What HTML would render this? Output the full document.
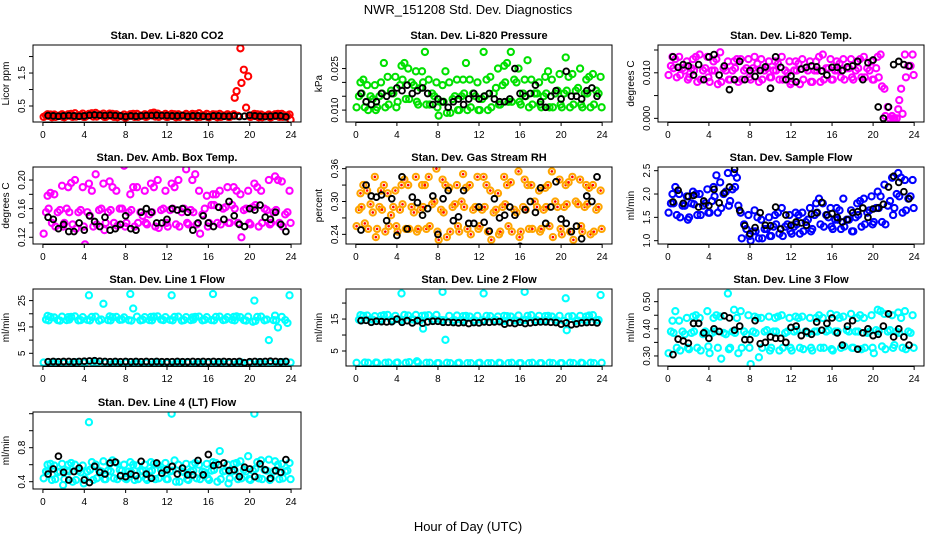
<!DOCTYPE html>
<html><head><meta charset="utf-8">
<style>
html,body{margin:0;padding:0;background:#fff;}
svg{display:block;font-family:"Liberation Sans",Arial,sans-serif;}
</style></head>
<body>
<svg id="chart" width="936" height="540" viewBox="0 0 936 540">
<text x="468" y="14" text-anchor="middle" font-size="13">NWR_151208  Std. Dev. Diagnostics</text>
<text x="468" y="531" text-anchor="middle" font-size="13">Hour of Day (UTC)</text>
</svg>
<script>
const xTicks=[0,4,8,12,16,20,24];
const binHours=[0.25,0.75,1.25,1.75,2.25,2.75,3.25,3.75,4.25,4.75,5.25,5.75,6.25,6.75,7.25,7.75,8.25,8.75,9.25,9.75,10.25,10.75,11.25,11.75,12.25,12.75,13.25,13.75,14.25,14.75,15.25,15.75,16.25,16.75,17.25,17.75,18.25,18.75,19.25,19.75,20.25,20.75,21.25,21.75,22.25,22.75,23.25,23.75];
const blackHours=[0.5,1,1.5,2,2.5,3,3.5,4,4.5,5,5.5,6,6.5,7,7.5,8,8.5,9,9.5,10,10.5,11,11.5,12,12.5,13,13.5,14,14.5,15,15.5,16,16.5,17,17.5,18,18.5,19,19.5,20,20.5,21,21.5,22,22.5,23,23.5];

const co2Lo=[.17,.16,.17,.17,.16,.17,.18,.17,.17,.18,.18,.17,.17,.17,.16,.15,.16,.17,.17,.17,.18,.18,.17,.17,.17,.16,.17,.17,.17,.16,.17,.17,.16,.16,.17,.17,.17,.2,1.2,.2,.17,.16,.16,.16,.16,.17,.17,.08];
const co2Mid=[.21,.2,.2,.21,.2,.21,.22,.22,.21,.23,.24,.22,.22,.21,.2,.19,.2,.21,.21,.21,.24,.26,.22,.21,.21,.2,.21,.21,.21,.2,.22,.21,.2,.2,.21,.21,.21,.75,1.6,.45,.22,.2,.2,.2,.2,.21,.21,.2];
const co2Hi=[.25,.24,.24,.25,.25,.26,.28,.27,.26,.28,.29,.27,.27,.26,.25,.24,.25,.26,.26,.25,.28,.3,.27,.26,.26,.25,.25,.26,.26,.25,.28,.26,.25,.24,.26,.25,.25,.95,2.25,1.4,.26,.25,.24,.24,.25,.26,.26,.24];
const co2Black=[.21,.2,.19,.2,.21,.2,.19,.2,.22,.23,.22,.21,.22,.21,.2,.18,.2,.19,.2,.21,.21,.22,.21,.21,.2,.2,.21,.19,.2,.2,.19,.18,.2,.2,.19,.19,.2,.18,.19,.22,.2,.19,.18,.19,.2,.2,.17];

const presLo=[.011,.011,.010,.010,.011,.011,.012,.011,.013,.014,.014,.013,.012,.012,.012,.011,.008,.009,.009,.010,.010,.010,.011,.010,.010,.010,.011,.012,.012,.013,.013,.013,.012,.011,.012,.012,.011,.011,.011,.012,.011,.011,.012,.012,.011,.011,.012,.011];
const presMid=[.015,.016,.015,.014,.015,.016,.017,.016,.019,.021,.020,.019,.018,.020,.016,.015,.013,.013,.014,.015,.015,.016,.016,.015,.014,.015,.016,.018,.019,.020,.021,.020,.016,.015,.016,.016,.015,.016,.016,.017,.016,.017,.017,.018,.016,.016,.017,.016];
const presHi=[.020,.021,.019,.019,.020,.027,.022,.022,.026,.027,.025,.024,.024,.031,.021,.020,.019,.024,.020,.021,.021,.027,.021,.020,.031,.021,.022,.025,.026,.027,.031,.025,.021,.028,.021,.020,.022,.024,.021,.023,.029,.022,.023,.025,.021,.022,.023,.022];
const presBlack=[.016,.013,.012,.013,.016,.015,.016,.018,.017,.019,.016,.017,.018,.016,.012,.014,.013,.011,.013,.014,.012,.014,.016,.014,.015,.016,.014,.013,.013,.014,.025,.016,.015,.016,.019,.013,.011,.015,.017,.014,.024,.015,.015,.014,.017,.018,.015];

const tempLo=[.0095,.009,.0095,.0085,.009,.008,.0085,.009,.008,.0075,.008,.0085,.0085,.008,.0085,.009,.0085,.008,.0085,.009,.009,.0085,.0085,.0075,.008,.0075,.0085,.008,.008,.008,.0085,.0085,.0085,.009,.0085,.009,.0085,.009,.009,.0085,.0085,.007,.0005,0,0,.001,.009,.0095];
const tempMid=[.0115,.011,.011,.0105,.011,.0105,.0105,.011,.0105,.0105,.011,.0105,.0105,.011,.0105,.011,.011,.0105,.0105,.011,.0105,.0105,.0105,.010,.0105,.0105,.011,.0105,.0105,.0105,.011,.011,.0105,.0105,.011,.011,.0105,.011,.011,.0105,.011,.009,.0025,0,0,.004,.0115,.0115];
const tempHi=[.0135,.013,.0135,.0125,.013,.0135,.014,.0135,.0125,.013,.0145,.0125,.0125,.013,.013,.013,.0135,.012,.013,.0125,.0125,.012,.0135,.0125,.0125,.012,.013,.0125,.0125,.0135,.014,.013,.0125,.012,.013,.013,.0125,.013,.0135,.0125,.0135,.014,.0065,.0005,.002,.0065,.014,.014];
const tempBlack=[.0135,.0112,.0118,.0115,.0095,.0118,.0085,.0135,.014,.0095,.0115,.0063,.0085,.0125,.0085,.0105,.0092,.0105,.0113,.0066,.0135,.0112,.0085,.0093,.008,.0108,.0112,.0115,.0113,.0104,.0095,.0112,.0112,.0105,.0113,.0115,.0125,.0085,.0122,.0128,.0025,0,.0025,.0118,.0125,.0118,.0115];

const ambLo=[.125,.14,.135,.135,.14,.138,.132,.135,.11,.135,.138,.13,.14,.14,.136,.135,.14,.135,.14,.14,.138,.135,.133,.14,.135,.138,.135,.14,.138,.138,.125,.135,.14,.14,.138,.14,.14,.14,.12,.14,.138,.135,.14,.138,.14,.14,.135,.14];
const ambMid=[.155,.16,.155,.158,.16,.155,.155,.158,.155,.15,.158,.16,.155,.158,.16,.16,.155,.158,.155,.15,.152,.155,.158,.16,.158,.16,.155,.16,.158,.155,.152,.16,.165,.165,.16,.162,.165,.16,.158,.16,.162,.165,.16,.158,.155,.158,.152,.155];
const ambHi=[.178,.182,.18,.192,.19,.196,.2,.19,.195,.185,.208,.195,.198,.19,.185,.22,.18,.19,.19,.185,.195,.19,.2,.185,.195,.19,.2,.215,.2,.208,.185,.178,.18,.18,.185,.19,.19,.185,.18,.185,.195,.19,.185,.2,.205,.2,.198,.185];
const ambBlack=[.148,.145,.132,.138,.128,.128,.14,.13,.15,.142,.135,.148,.13,.132,.138,.15,.132,.13,.155,.16,.155,.14,.14,.145,.16,.158,.16,.155,.13,.14,.15,.14,.135,.162,.145,.17,.15,.138,.135,.16,.158,.165,.148,.145,.155,.138,.128];

const rhLo=[.255,.26,.25,.235,.25,.245,.255,.255,.245,.25,.25,.245,.25,.25,.255,.245,.23,.235,.245,.255,.245,.25,.24,.25,.255,.245,.23,.24,.245,.255,.245,.235,.245,.25,.25,.245,.25,.255,.235,.25,.24,.245,.23,.255,.245,.24,.245,.25];
const rhMid=[.285,.29,.295,.28,.29,.285,.275,.29,.285,.295,.29,.28,.285,.29,.295,.3,.285,.28,.29,.295,.3,.29,.285,.29,.285,.29,.28,.285,.29,.295,.285,.28,.29,.285,.3,.29,.285,.29,.3,.29,.29,.295,.3,.295,.29,.295,.285,.29];
const rhHi=[.315,.33,.32,.345,.32,.33,.315,.32,.33,.34,.33,.345,.33,.33,.345,.36,.34,.33,.325,.33,.35,.325,.33,.345,.345,.33,.32,.315,.345,.33,.335,.355,.34,.33,.33,.32,.325,.33,.355,.34,.33,.335,.345,.34,.33,.325,.33,.32];
const rhBlack=[.248,.33,.31,.308,.312,.265,.305,.238,.345,.25,.308,.298,.275,.287,.31,.24,.305,.32,.265,.272,.32,.26,.26,.29,.262,.246,.305,.27,.275,.29,.275,.218,.285,.3,.28,.325,.26,.29,.336,.268,.26,.245,.255,.232,.31,.3,.345];

const sfLo=[1.6,1.55,1.5,1.45,1.5,1.55,1.55,1.6,1.6,1.6,1.7,1.75,1.85,1.75,1.05,1.1,1.0,1.05,1.05,1.1,1.1,1.15,1.1,1.2,1.15,1.15,1.2,1.2,1.25,1.35,1.3,1.3,1.25,1.25,1.3,1.2,1.2,1.3,1.35,1.35,1.4,1.4,1.35,1.55,1.7,1.6,1.65,1.7];
const sfMid=[1.8,1.8,1.75,1.75,1.8,1.78,1.75,1.8,1.85,1.95,2.0,2.05,2.1,2.15,1.35,1.25,1.2,1.2,1.25,1.25,1.3,1.35,1.3,1.35,1.3,1.35,1.4,1.45,1.55,1.6,1.55,1.5,1.45,1.45,1.45,1.45,1.5,1.55,1.6,1.65,1.7,1.7,1.75,1.85,2.0,1.95,1.9,1.95];
const sfHi=[2.0,2.15,2.0,1.95,2.05,2.0,2.0,2.1,2.15,2.4,2.25,2.45,2.45,2.35,1.6,1.55,1.65,1.5,1.45,1.5,1.55,1.6,1.7,1.55,1.6,1.55,1.6,1.7,1.8,1.9,1.8,1.7,1.7,1.65,1.9,1.65,1.8,1.85,1.9,1.95,2.05,1.95,2.2,2.35,2.45,2.35,2.3,2.3];
const sfBlack=[1.83,2.08,1.8,1.95,1.97,1.72,1.85,1.75,2.1,1.81,2.02,2.15,2.53,1.65,1.32,1.15,1.28,1.6,1.33,1.32,1.72,1.25,1.55,1.33,1.4,1.38,1.33,1.57,1.6,1.82,1.55,1.58,1.5,1.4,1.45,1.6,1.62,1.7,1.5,1.68,1.7,1.78,2.15,2.38,2.25,2.05,1.9];

const l1Lo=[1.5,1.4,1.6,1.5,1.5,1.4,1.6,1.5,1.6,1.5,1.4,1.6,1.5,1.5,1.4,1.5,1.6,1.5,1.4,1.5,1.5,1.6,1.5,1.4,1.5,1.4,1.5,1.6,1.5,1.4,1.5,1.5,1.6,1.4,1.5,1.5,1.4,1.5,1.5,1.3,1.5,1.6,1.5,1.4,1.5,1.5,1.6,1.5];
const l1Mid=[17.8,17.5,17.6,17.4,17.6,17.8,17.5,17.6,17.7,17.5,17.4,17.8,17.6,17.5,17.7,17.8,17.6,17.4,17.5,17.7,17.6,17.5,17.8,17.6,17.7,17.5,17.4,17.6,17.6,17.8,17.5,17.7,17.6,17.5,17.6,17.8,17.7,17.5,17.6,17.4,17.0,17.3,17.5,17.8,17.6,17.5,17.6,16.5];
const l1Hi=[19.2,18.8,18.6,18.9,18.7,18.8,19.0,18.7,27.0,18.8,18.9,23.8,19.0,18.7,18.8,18.6,27.5,22.0,18.9,18.7,18.8,18.9,19.0,18.7,27.0,18.8,18.9,18.7,18.6,18.8,18.9,18.7,27.5,18.8,18.9,18.7,18.8,19.0,18.7,18.9,25.0,18.8,18.9,10.0,19.3,14.8,18.8,27.0];
const l1Black=[1.8,1.9,1.8,1.9,1.9,1.8,1.9,2.0,2.1,2.2,2.0,1.9,1.8,1.9,1.8,1.9,1.8,1.9,1.8,1.9,1.8,1.9,1.8,1.8,1.8,1.9,1.8,1.8,1.9,1.8,1.9,1.8,1.9,1.8,1.9,1.8,1.8,1.9,1.4,1.8,1.9,1.8,1.9,2.0,1.9,1.8,1.9];

const l2Lo=[1.3,1.4,1.3,1.4,1.3,1.3,1.4,1.3,1.4,1.3,1.5,1.8,1.4,1.3,1.3,1.2,1.2,1.3,1.2,1.2,1.3,1.2,1.2,1.2,1.3,1.2,1.2,1.3,1.2,1.2,1.3,1.2,1.2,1.2,1.3,1.2,1.2,1.3,1.2,1.2,1.2,1.3,1.2,1.3,1.2,1.3,1.2,1.3];
const l2Mid=[14.8,14.6,14.9,14.8,14.7,14.9,14.8,14.6,14.8,14.7,14.9,14.8,14.7,12.0,14.6,14.8,14.7,14.6,14.5,14.6,14.7,14.5,14.6,14.5,14.6,14.5,14.6,14.7,14.5,14.4,14.6,14.5,14.6,14.7,14.5,14.6,14.5,14.6,14.7,14.5,14.4,11.5,14.4,14.5,14.6,14.5,14.6,14.7];
const l2Hi=[16.2,16.0,16.1,15.9,16.0,16.2,16.3,16.0,23.0,16.3,16.1,16.3,16.0,16.1,16.2,16.3,23.5,8.5,16.0,16.1,15.9,16.0,15.8,16.0,23.0,16.0,15.9,15.8,16.0,15.9,15.8,16.1,23.5,16.0,16.2,16.0,15.9,16.0,15.8,16.0,21.5,15.8,15.9,16.0,15.8,16.1,16.2,22.5];
const l2Black=[14.5,14.6,14.0,14.3,14.2,14.1,14.2,15.0,14.0,14.5,13.8,14.5,13.7,14.1,14.3,14.3,14.0,14.0,13.9,13.8,13.9,13.6,13.9,13.8,14.1,14.0,14.1,14.2,13.4,13.8,13.6,14.0,13.6,13.8,14.0,14.1,14.1,14.0,13.9,13.4,13.8,13.2,13.5,13.8,13.9,14.0,13.8];

const l3Lo=[.31,.33,.32,.33,.325,.33,.32,.335,.31,.33,.29,.325,.33,.31,.33,.33,.27,.295,.33,.32,.33,.32,.33,.33,.32,.33,.325,.33,.32,.33,.33,.325,.32,.33,.335,.33,.33,.325,.33,.33,.31,.335,.325,.33,.34,.33,.325,.33];
const l3Mid=[.39,.385,.39,.38,.385,.39,.38,.39,.385,.39,.385,.38,.39,.385,.39,.38,.39,.385,.39,.395,.39,.39,.385,.39,.39,.395,.39,.385,.39,.39,.39,.395,.39,.39,.395,.39,.39,.39,.385,.39,.395,.39,.39,.395,.39,.385,.39,.385];
const l3Hi=[.43,.465,.43,.44,.445,.45,.44,.465,.44,.45,.445,.53,.47,.44,.465,.45,.445,.44,.44,.445,.44,.445,.45,.44,.445,.44,.445,.44,.44,.45,.44,.455,.45,.44,.445,.455,.44,.45,.44,.45,.47,.465,.455,.45,.46,.44,.465,.45];
const l3Black=[.305,.362,.355,.347,.42,.42,.385,.365,.4,.39,.448,.44,.395,.41,.36,.36,.43,.345,.35,.37,.365,.365,.35,.405,.41,.375,.39,.38,.425,.395,.42,.44,.385,.34,.41,.43,.325,.385,.4,.375,.38,.41,.455,.37,.4,.37,.34];

const l4Lo=[.44,.42,.43,.36,.43,.4,.42,.38,.43,.42,.44,.43,.43,.44,.43,.44,.43,.42,.43,.44,.42,.43,.44,.43,.43,.4,.4,.43,.42,.44,.43,.44,.42,.4,.43,.38,.44,.43,.44,.43,.42,.44,.43,.42,.44,.43,.44,.43];
const l4Mid=[.52,.53,.51,.52,.53,.52,.53,.51,.52,.54,.53,.52,.53,.52,.54,.53,.52,.51,.52,.53,.52,.53,.54,.53,.52,.53,.52,.51,.52,.53,.52,.51,.53,.54,.52,.53,.52,.53,.54,.52,.53,.55,.54,.53,.52,.53,.52,.53];
const l4Hi=[.6,.61,.59,.61,.6,.62,.6,.59,1.1,.63,.6,.64,.61,.65,.62,.6,.63,.6,.59,.6,.63,.61,.6,.62,1.2,.65,.6,.61,.6,.62,.6,.61,.63,.62,.76,.6,.61,.62,.64,.7,1.2,.63,.65,.66,.64,.6,.61,.62];
const l4Black=[.49,.55,.7,.51,.42,.52,.56,.42,.39,.58,.51,.49,.62,.63,.47,.46,.49,.47,.64,.49,.44,.62,.5,.54,.58,.49,.56,.48,.48,.65,.48,.72,.59,.6,.62,.53,.54,.46,.57,.55,.46,.61,.54,.44,.53,.51,.66];

const cols=[[33,301],[346,612],[658,924]];
const rows=[[45,122],[167,244],[289,366],[412,489]];
const panels=[
 {id:'co2',title:'Stan. Dev. Li-820 CO2',ylab:'Licor ppm',c:0,r:0,dom:[0.015,2.35],ticks:[0.5,1,1.5,2],labs:['0.5','1.5'],col:'#ff0000',s:[co2Lo,co2Mid,co2Hi],b:co2Black},
 {id:'pressure',title:'Stan. Dev. Li-820 Pressure',ylab:'kPa',c:1,r:0,dom:[0.0057,0.0335],ticks:[0.01,0.015,0.02,0.025],labs:['0.010','0.025'],col:'#00e000',s:[presLo,presMid,presHi],b:presBlack},
 {id:'li820-temp',title:'Stan. Dev. Li-820 Temp.',ylab:'degrees C',c:2,r:0,dom:[-0.0008,0.0161],ticks:[0,0.005,0.01,0.015],labs:['0.000','0.010'],col:'#ff00ff',s:[tempLo,tempMid,tempHi],b:tempBlack},
 {id:'amb-box-temp',title:'Stan. Dev. Amb. Box Temp.',ylab:'degrees C',c:0,r:1,dom:[0.1106,0.2182],ticks:[0.12,0.14,0.16,0.18,0.2],labs:['0.12','0.16','0.20'],col:'#ff00ff',s:[ambLo,ambMid,ambHi],b:ambBlack},
 {id:'gas-stream-rh',title:'Stan. Dev. Gas Stream RH',ylab:'percent',c:1,r:1,dom:[0.2224,0.363],ticks:[0.24,0.27,0.30,0.33,0.36],labs:['0.24','0.30','0.36'],col:'#ffa500',s:[rhLo,rhMid,rhHi],b:rhBlack},
 {id:'sample-flow',title:'Stan. Dev. Sample Flow',ylab:'ml/min',c:2,r:1,dom:[0.929,2.579],ticks:[1,1.5,2,2.5],labs:['1.0','1.5','2.0','2.5'],col:'#0000ff',s:[sfLo,sfMid,sfHi],b:sfBlack},
 {id:'line1-flow',title:'Stan. Dev. Line 1 Flow',ylab:'ml/min',c:0,r:2,dom:[0.18,29.4],ticks:[5,10,15,20,25],labs:['5','15','25'],col:'#00ffff',s:[l1Lo,l1Mid,l1Hi],b:l1Black},
 {id:'line2-flow',title:'Stan. Dev. Line 2 Flow',ylab:'ml/min',c:1,r:2,dom:[0.31,24.4],ticks:[5,10,15,20],labs:['5','15'],col:'#00ffff',s:[l2Lo,l2Mid,l2Hi],b:l2Black},
 {id:'line3-flow',title:'Stan. Dev. Line 3 Flow',ylab:'ml/min',c:2,r:2,dom:[0.263,0.5467],ticks:[0.3,0.35,0.4,0.45,0.5],labs:['0.30','0.40','0.50'],col:'#00ffff',s:[l3Lo,l3Mid,l3Hi],b:l3Black},
 {id:'line4-flow',title:'Stan. Dev. Line 4 (LT) Flow',ylab:'ml/min',c:0,r:3,dom:[0.314,1.22],ticks:[0.4,0.6,0.8,1.0,1.2],labs:['0.4','0.8'],col:'#00ffff',s:[l4Lo,l4Mid,l4Hi],b:l4Black}
];
const NS='http://www.w3.org/2000/svg';
const svg=document.getElementById('chart');
function mk(tag,attrs,parent){const e=document.createElementNS(NS,tag);for(const k in attrs)e.setAttribute(k,attrs[k]);parent.appendChild(e);return e;}
const offPattern=[[-0.18,0.05,0.2],[0.12,-0.2,-0.02],[-0.05,0.18,-0.15],[0.2,-0.1,0.1]];
panels.forEach(p=>{
  const [x0,x1]=cols[p.c],[y0,y1]=rows[p.r];
  const xs=h=>x0+(h+0.96)/25.92*(x1-x0);
  const ys=v=>y1-(v-p.dom[0])/(p.dom[1]-p.dom[0])*(y1-y0);
  const g=mk('g',{},svg);
  
  
  const t=mk('text',{x:(x0+x1)/2,y:y0-6,'text-anchor':'middle','font-size':'11','font-weight':'bold'},g);
  t.textContent=p.title;
  
  
  const yl=mk('text',{x:x0-24,y:(y0+y1)/2,'text-anchor':'middle','font-size':'10',transform:`rotate(-90 ${x0-24} ${(y0+y1)/2})`},g);
  yl.textContent=p.ylab;
  
  
  const clipId='clip-'+p.id;
  const cp=mk('clipPath',{id:clipId},g);mk('rect',{x:x0,y:y0,width:x1-x0,height:y1-y0},cp);
  const pts=mk('g',{'clip-path':`url(#${clipId})`},g);
  
  
  p.s.forEach((arr,k)=>{arr.forEach((v,i)=>{
    const cx=xs(binHours[i]+offPattern[i%4][k]),cy=ys(v);
    const c=mk('circle',{cx:cx,cy:cy,r:3.1,fill:'none',stroke:p.col,'stroke-width':2.1},pts);
    
    
    if(p.id==='gas-stream-rh'){mk('circle',{cx:cx,cy:cy,r:1.3,fill:'#ff0000'},pts);}
  });});
  p.b.forEach((v,i)=>{if(i>=blackHours.length)return;
    const c=mk('circle',{cx:xs(blackHours[i]),cy:ys(v),r:2.9,fill:'none',stroke:'#000','stroke-width':1.9},pts);
    
    
  });
  const box=mk('rect',{x:x0,y:y0,width:x1-x0,height:y1-y0,fill:'none',stroke:'#000','stroke-width':1},g);
  
  
  xTicks.forEach(h=>{const X=xs(h);mk('line',{x1:X,x2:X,y1:y1,y2:y1+4,stroke:'#000'},g);
    const tl=mk('text',{x:X,y:y1+16,'text-anchor':'middle','font-size':'10'},g);tl.textContent=h;
    
    });
  mk('line',{x1:xs(0),x2:xs(24),y1:y1+0.5,y2:y1+0.5,stroke:'#000'},g);
  p.ticks.forEach(v=>{const Y=ys(v);mk('line',{x1:x0-4,x2:x0,y1:Y,y2:Y,stroke:'#000'},g);});
  p.labs.forEach(s=>{const Y=ys(parseFloat(s));
    const tl=mk('text',{x:x0-8,y:Y,'text-anchor':'middle','font-size':'10',transform:`rotate(-90 ${x0-8} ${Y})`},g);tl.textContent=s;
    
    });
});
</script>
</body></html>
